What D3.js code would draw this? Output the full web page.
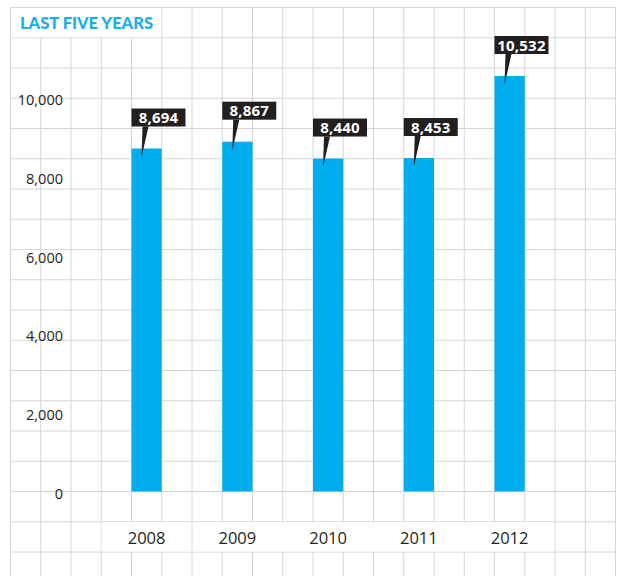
<!DOCTYPE html>
<html>
<head>
<meta charset="utf-8">
<script src="https://cdn.jsdelivr.net/npm/d3@7"></script>
<style>
  body { margin: 0; background: #fff; }
  text { font-family: "Open Sans", sans-serif; }
</style>
</head>
<body>
<svg id="chart" width="617" height="576"></svg>
<script>
var years = ["2008", "2009", "2010", "2011", "2012"];
var values = [8694, 8867, 8440, 8453, 10532];
var yTicks = [0, 2000, 4000, 6000, 8000, 10000];
var title = "LAST FIVE YEARS";

var svg = d3.select("#chart"),
    cell = 30.25,
    gx = 10.5,
    gy = 7.5;

// graph-paper background
var grid = svg.append("g").attr("stroke", "#d6d6d6").attr("stroke-width", 1);
d3.range(0, 21).forEach(function(i) {
    grid.append("line")
        .attr("x1", gx + i * cell).attr("x2", gx + i * cell)
        .attr("y1", gy).attr("y2", 576);
});
d3.range(0, 19).forEach(function(j) {
    grid.append("line")
        .attr("x1", gx).attr("x2", gx + 20 * cell)
        .attr("y1", gy + j * cell).attr("y2", gy + j * cell);
});

// title cell
svg.append("rect")
    .attr("x", gx + 0.5).attr("y", gy + 0.5)
    .attr("width", 5 * cell - 1).attr("height", cell - 1)
    .attr("fill", "#fff");
svg.append("text")
    .attr("x", 20).attr("y", 29)
    .attr("fill", "#1aaee9")
    .style("font-family", "Lato, sans-serif")
    .style("font-weight", "900")
    .style("font-size", "16.5px")
    .text(title);

// blank strip behind the year labels
svg.append("rect")
    .attr("x", gx + 3 * cell + 0.5).attr("y", gy + 17 * cell + 0.5)
    .attr("width", 15 * cell - 1).attr("height", cell - 1)
    .attr("fill", "#fff");
svg.append("line")
    .attr("x1", gx + 6 * cell).attr("x2", gx + 6 * cell)
    .attr("y1", gy + 17 * cell).attr("y2", gy + 18 * cell)
    .attr("stroke", "#d6d6d6");

var xScale = d3.scaleBand()
    .domain(years)
    .range([gx + 3 * cell, gx + 18 * cell])
    .paddingInner(2 / 3)
    .paddingOuter(1 / 3);

var yScale = d3.scaleLinear()
    .domain([0, 10000])
    .range([gy + 16 * cell, 97]);

var yAxis = svg.append("g")
    .attr("transform", "translate(66,0)")
    .call(d3.axisLeft(yScale).tickValues(yTicks).tickSize(0).tickPadding(3)
        .tickFormat(d3.format(",")));
yAxis.select(".domain").remove();
yAxis.selectAll("text")
    .attr("dy", "0.5em")
    .attr("fill", "#231f20")
    .style("font-family", "'Open Sans', sans-serif")
    .style("font-size", "14.5px");

var xAxis = svg.append("g")
    .attr("transform", "translate(0,532.5)")
    .call(d3.axisBottom(xScale).tickSize(0).tickPadding(0));
xAxis.select(".domain").remove();
xAxis.selectAll("text")
    .attr("fill", "#231f20")
    .style("font-family", "'Open Sans', sans-serif")
    .style("font-size", "16.5px");

var data = years.map(function(y, i) { return { year: y, value: values[i] }; });

svg.append("g").selectAll(".bar")
    .data(data)
    .enter().append("rect")
    .attr("class", "bar")
    .attr("x", function(d) { return xScale(d.year); })
    .attr("y", function(d) { return yScale(d.value); })
    .attr("width", xScale.bandwidth())
    .attr("height", function(d) { return yScale(0) - yScale(d.value); })
    .attr("fill", "#00adef");

// value callouts
var callouts = svg.append("g").selectAll(".callout")
    .data(data)
    .enter().append("g")
    .attr("class", "callout")
    .attr("transform", function(d) {
        return "translate(" + xScale(d.year) + "," + yScale(d.value) + ")";
    });

callouts.append("path")
    .attr("d", "M11,-22L17,-22L10,9Z")
    .attr("fill", "#231f20");

callouts.append("rect")
    .attr("x", 0).attr("y", -40)
    .attr("width", 54).attr("height", 18)
    .attr("fill", "#231f20");

callouts.append("text")
    .attr("x", 27).attr("y", -25.5)
    .attr("text-anchor", "middle")
    .attr("fill", "#fff")
    .style("font-weight", "bold")
    .style("font-size", "15px")
    .style("letter-spacing", "0.2px")
    .text(function(d) { return d3.format(",")(d.value); });
</script>
</body>
</html>
